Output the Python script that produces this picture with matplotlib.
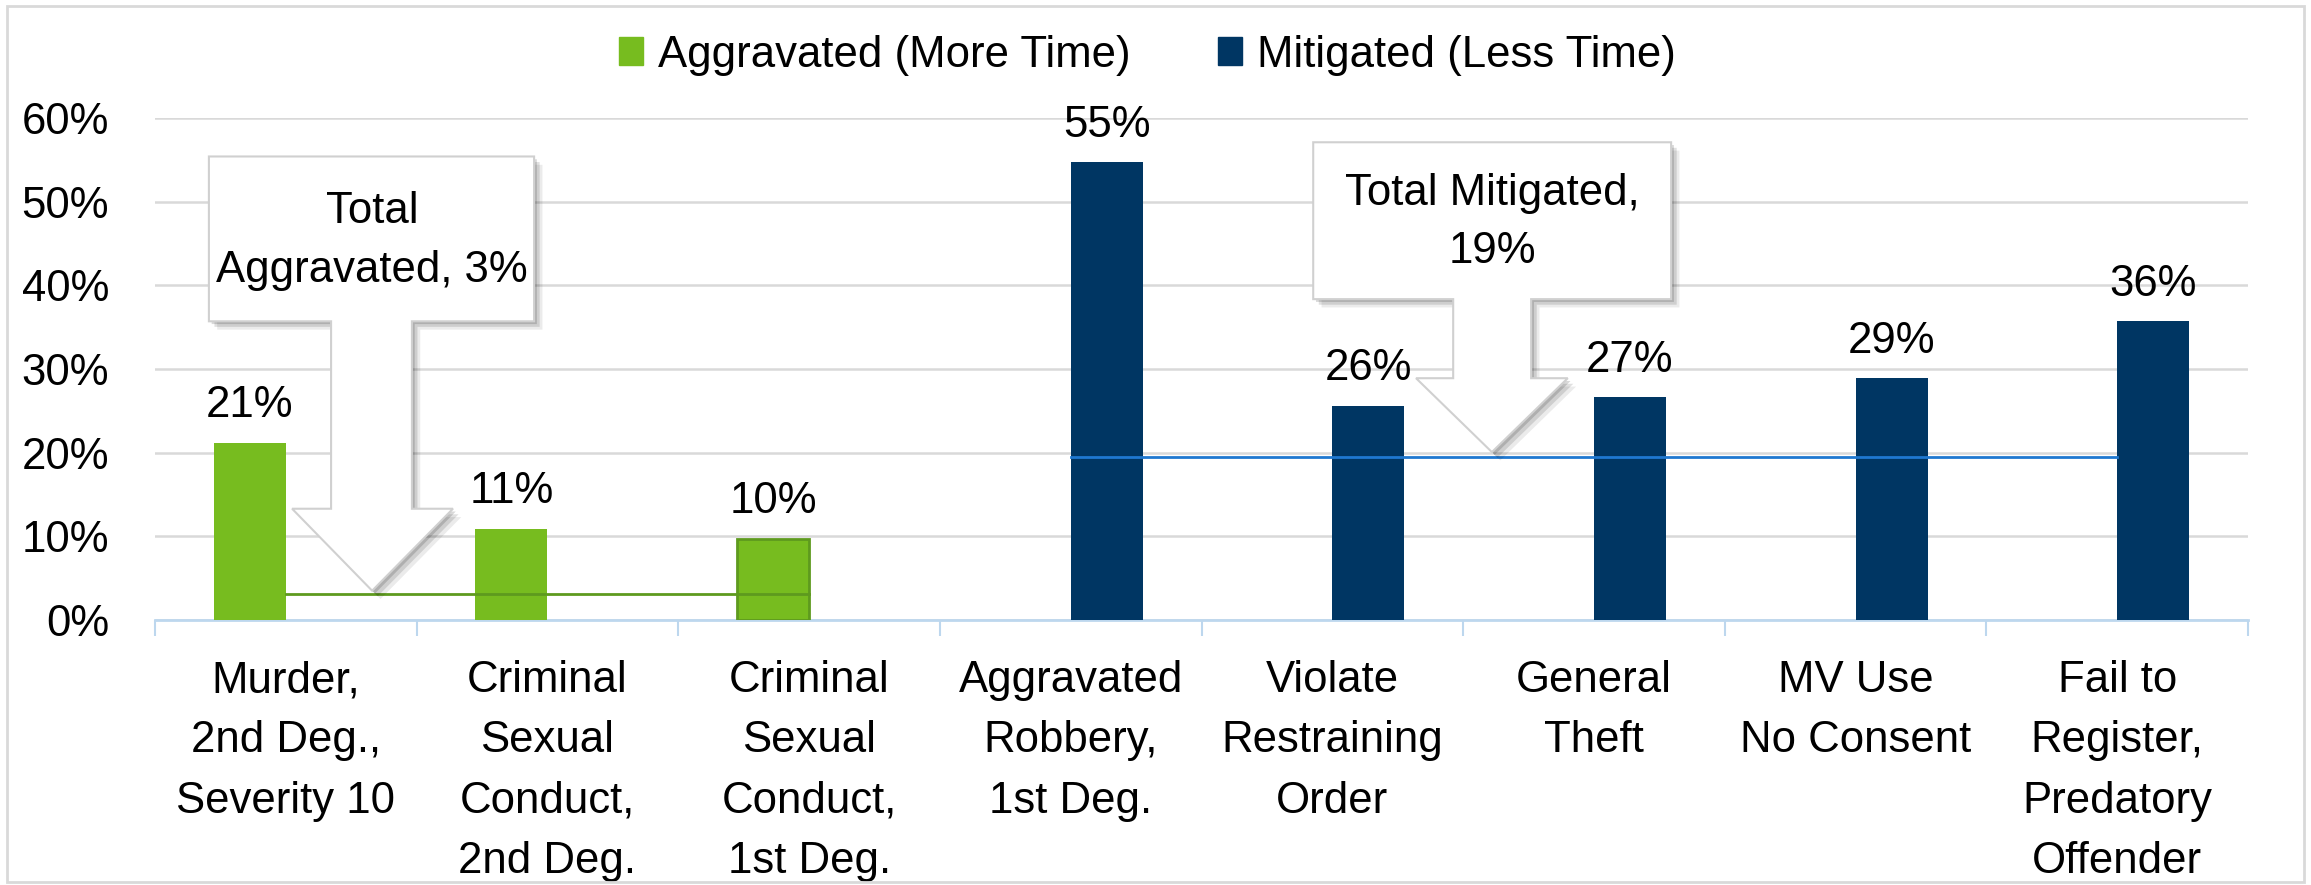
import numpy as np
import matplotlib
matplotlib.use("Agg")
import matplotlib.pyplot as plt
from matplotlib.patches import Patch, Polygon, Rectangle
import matplotlib.patheffects as pe

plt.rcParams['font.family'] = ['Liberation Sans', 'DejaVu Sans']

# Data
categories = [
    "Murder,\n2nd Deg.,\nSeverity 10",
    "Criminal\nSexual\nConduct,\n2nd Deg.",
    "Criminal\nSexual\nConduct,\n1st Deg.",
    "Aggravated\nRobbery,\n1st Deg.",
    "Violate\nRestraining\nOrder",
    "General\nTheft",
    "MV Use\nNo Consent",
    "Fail to\nRegister,\nPredatory\nOffender",
]
aggravated = [21.2, 10.9, 9.7, np.nan, np.nan, np.nan, np.nan, np.nan]
mitigated = [np.nan, np.nan, np.nan, 54.7, 25.6, 26.6, 28.9, 35.7]
total_aggravated = 3.1
total_mitigated = 19.5

green = "#77BC1F"
navy = "#003663"
fs = 31.5

fig = plt.figure(figsize=(23.11, 8.85), dpi=100)
ax = fig.add_axes([155 / 2311, 1 - 620 / 885, (2248 - 155) / 2311, (620 - 118) / 885])

x = np.arange(len(categories))
w = 0.275

agg_idx = [i for i, v in enumerate(aggravated) if not np.isnan(v)]
mit_idx = [i for i, v in enumerate(mitigated) if not np.isnan(v)]
agg_vals = [aggravated[i] for i in agg_idx]
mit_vals = [mitigated[i] for i in mit_idx]

b1 = ax.bar(x[agg_idx] - w / 2, agg_vals, w, color=green, zorder=3)
b1[-1].set_edgecolor("#5E9A1E")
b1[-1].set_linewidth(2)
b2 = ax.bar(x[mit_idx] + w / 2, mit_vals, w, color=navy, zorder=3)

ax.bar_label(b1, labels=[f"{v:.0f}%" for v in agg_vals], padding=12, fontsize=fs)
ax.bar_label(b2, labels=[f"{v:.0f}%" for v in mit_vals], padding=12, fontsize=fs)

# average lines
ax.plot(x[agg_idx], [total_aggravated] * len(agg_idx), color="#5E9A1E", lw=2, zorder=4)
ax.plot(x[mit_idx], [total_mitigated] * len(mit_idx), color="#1F78D0", lw=2, zorder=4)

ax.set_xlim(-0.5, len(categories) - 0.5)
ax.set_ylim(0, 60)
ax.set_yticks(range(0, 61, 10))
ax.set_yticklabels([f"{t}%" for t in range(0, 61, 10)], fontsize=fs)
ax.tick_params(axis="y", length=0, pad=33)
ax.yaxis.grid(True, color="#D9D9D9", lw=1.8, zorder=0)
ax.set_axisbelow(True)

ax.set_xticks(x)
ax.set_xticklabels(categories, fontsize=fs, linespacing=1.6, va="top")
ax.tick_params(axis="x", length=0, pad=29)
ax.set_xticks(np.arange(-0.5, len(categories)), minor=True)
ax.tick_params(axis="x", which="minor", length=11.5, width=1.5, color="#BDD7EE")

for s in ["top", "right", "left"]:
    ax.spines[s].set_visible(False)
ax.spines["bottom"].set_color("#BDD7EE")
ax.spines["bottom"].set_linewidth(2)


def callout(box, stem, stem_y, head, tip):
    x0, x1, y0, y1 = box
    sx0, sx1 = stem
    hx0, hx1 = head
    verts = [(x0, y1), (x1, y1), (x1, y0), (sx1, y0), (sx1, stem_y), (hx1, stem_y),
             tip, (hx0, stem_y), (sx0, stem_y), (sx0, y0), (x0, y0)]
    p = Polygon(verts, closed=True, facecolor="white", edgecolor="#D0D0D0", lw=1.5,
                zorder=6, clip_on=False)
    p.set_path_effects([
        pe.SimplePatchShadow(offset=(6, -6), shadow_rgbFace="#000000", alpha=0.08),
        pe.SimplePatchShadow(offset=(4, -4), shadow_rgbFace="#000000", alpha=0.12),
        pe.SimplePatchShadow(offset=(2, -2), shadow_rgbFace="#000000", alpha=0.15),
        pe.Normal(),
    ])
    ax.add_patch(p)


callout((-0.294, 0.949, 35.7, 55.4), (0.173, 0.482), 13.3, (0.024, 0.639), (0.33, 3.5))
ax.text(0.33, 45.3, "Total\nAggravated, 3%", ha="center", va="center", fontsize=fs,
        linespacing=1.55, zorder=7)
callout((3.927, 5.295, 38.35, 57.1), (4.462, 4.76), 28.9, (4.32, 4.90), (4.61, 20.07))
ax.text(4.61, 47.5, "Total Mitigated,\n19%", ha="center", va="center", fontsize=fs,
        linespacing=1.55, zorder=7)

handles = [Patch(color=green, label="Aggravated (More Time)"),
           Patch(color=navy, label="Mitigated (Less Time)")]
fig.legend(handles=handles, loc="center", bbox_to_anchor=(0.4965, 1 - 55 / 885), ncol=2,
           frameon=False, fontsize=fs, handlelength=0.55, handleheight=0.6,
           handletextpad=0.35, columnspacing=2.0)

fig.patches.append(Rectangle((7 / 2311, 0.003), (2304 - 7) / 2311, 1 - 6 / 885 - 0.003,
                             transform=fig.transFigure, fill=False, edgecolor="#D9D9D9",
                             lw=2))

fig.savefig("out.png", dpi=100)
